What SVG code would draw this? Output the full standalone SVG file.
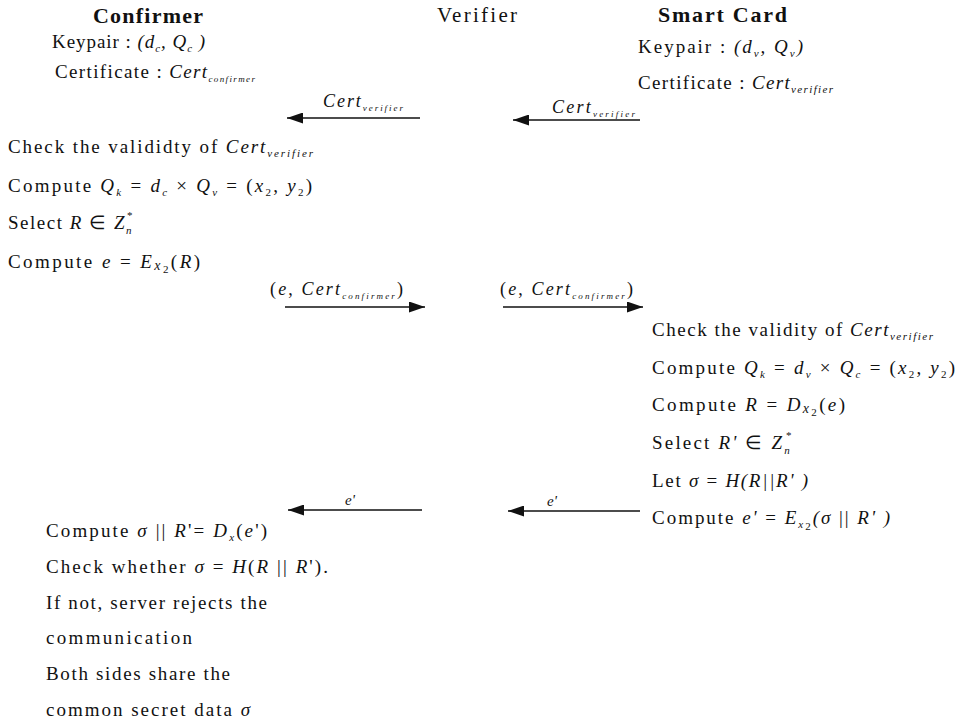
<svg xmlns="http://www.w3.org/2000/svg" width="958" height="719" viewBox="0 0 958 719">
  <defs>
    <style>
      .hd { font-weight: bold; font-size: 22px; }
      .pl { font-size: 21px; }
      .i { font-style: italic; }
      .s { font-style: italic; font-size: 11px; }
      .ss { font-style: italic; font-size: 9px; }
      .n { font-style: normal; font-size: 11px; }
      .lbl { font-size: 18px; }
      .conn line { stroke: #111; stroke-width: 1.5; }
    </style>
    <marker id="head" markerUnits="userSpaceOnUse" markerWidth="17" markerHeight="11" refX="16" refY="5.5" orient="auto">
      <path d="M0,0 L16,5.5 L0,11 Z" fill="#111"/>
    </marker>
  </defs>
  <rect width="958" height="719" fill="#fff"/>

  <g font-family="Liberation Serif, Times New Roman, serif" font-size="19" fill="#111">
  <!-- party headings -->
  <g id="confirmer-title"><text class="hd" x="93" y="23" textLength="110">Confirmer</text></g>
  <g id="verifier-title"><text class="pl" x="437" y="22" textLength="80">Verifier</text></g>
  <g id="smartcard-title"><text class="hd" x="658" y="22" textLength="129">Smart Card</text></g>

  <!-- confirmer key material -->
  <g id="confirmer-keys">
    <text x="52" y="48" textLength="153">Keypair : <tspan class="i">(d</tspan><tspan class="s" dy="4">c</tspan><tspan class="i" dy="-4">, Q</tspan><tspan class="s" dy="4">c</tspan><tspan class="i" dy="-4"> )</tspan></text>
    <text x="55" y="78" textLength="200">Certificate : <tspan class="i">Cert</tspan><tspan class="ss" dy="4">confirmer</tspan></text>
  </g>

  <!-- smart card key material -->
  <g id="smartcard-keys">
    <text x="638" y="53" textLength="165">Keypair : <tspan class="i">(d</tspan><tspan class="s" dy="4">v</tspan><tspan class="i" dy="-4">, Q</tspan><tspan class="s" dy="4">v</tspan><tspan class="i" dy="-4">)</tspan></text>
    <text x="638" y="89" textLength="195">Certificate : <tspan class="i">Cert</tspan><tspan class="s" dy="4">verifier</tspan></text>
  </g>

  <!-- confirmer: first computation block -->
  <g id="confirmer-step1">
    <text x="8" y="153" textLength="305">Check the valididty of <tspan class="i">Cert</tspan><tspan class="s" dy="4">verifier</tspan></text>
    <text x="8" y="192" textLength="304">Compute <tspan class="i">Q</tspan><tspan class="s" dy="4">k</tspan><tspan dy="-4"> = </tspan><tspan class="i">d</tspan><tspan class="s" dy="4">c</tspan><tspan dy="-4"> × </tspan><tspan class="i">Q</tspan><tspan class="s" dy="4">v</tspan><tspan dy="-4"> = (</tspan><tspan class="i">x</tspan><tspan class="n" dy="4">2</tspan><tspan dy="-4">, </tspan><tspan class="i">y</tspan><tspan class="n" dy="4">2</tspan><tspan dy="-4">)</tspan></text>
    <text x="8" y="229" textLength="125">Select <tspan class="i">R</tspan> ∈ <tspan class="i">Z</tspan><tspan class="s" dy="5">n</tspan><tspan class="n" dx="-6" dy="-15" font-size="14">*</tspan></text>
    <text x="8" y="268" textLength="192">Compute <tspan class="i">e</tspan> = <tspan class="i">E</tspan><tspan class="i" font-size="14" dy="2">x</tspan><tspan class="n" font-size="11" dy="3">2</tspan><tspan dy="-5">(</tspan><tspan class="i">R</tspan>)</text>
  </g>

  <!-- smart card: response block -->
  <g id="smartcard-step">
    <text x="652" y="336" textLength="281">Check the validity of <tspan class="i">Cert</tspan><tspan class="s" dy="4">verifier</tspan></text>
    <text x="652" y="374" textLength="303">Compute <tspan class="i">Q</tspan><tspan class="s" dy="4">k</tspan><tspan dy="-4"> =  </tspan><tspan class="i">d</tspan><tspan class="s" dy="4">v</tspan><tspan dy="-4"> × </tspan><tspan class="i">Q</tspan><tspan class="s" dy="4">c</tspan><tspan dy="-4"> = (</tspan><tspan class="i">x</tspan><tspan class="n" dy="4">2</tspan><tspan dy="-4">, </tspan><tspan class="i">y</tspan><tspan class="n" dy="4">2</tspan><tspan dy="-4">)</tspan></text>
    <text x="652" y="411" textLength="193">Compute <tspan class="i">R</tspan> = <tspan class="i">D</tspan><tspan class="i" font-size="14" dy="2">x</tspan><tspan class="n" font-size="11" dy="3">2</tspan><tspan dy="-5">(</tspan><tspan class="i">e</tspan>)</text>
    <text x="652" y="449" textLength="140">Select <tspan class="i">R'</tspan> ∈ <tspan class="i">Z</tspan><tspan class="s" dy="5">n</tspan><tspan class="n" dx="-6" dy="-15" font-size="14">*</tspan></text>
    <text x="652" y="487" textLength="156">Let <tspan class="i">σ</tspan> = <tspan class="i">H(R||R' )</tspan></text>
    <text x="652" y="524" textLength="238">Compute <tspan class="i">e'</tspan> = <tspan class="i">E</tspan><tspan class="s" font-size="9" dy="4">x</tspan><tspan class="n" font-size="7" dy="2">2</tspan><tspan class="i" dy="-6">(σ</tspan> || <tspan class="i">R' )</tspan></text>
  </g>

  <!-- confirmer: final check block -->
  <g id="confirmer-step2">
    <text x="46" y="537" textLength="221">Compute <tspan class="i">σ</tspan> || <tspan class="i">R</tspan>'= <tspan class="i">D</tspan><tspan class="s" dy="4">x</tspan><tspan dy="-4">(</tspan><tspan class="i">e</tspan>')</text>
    <text x="46" y="573" textLength="282">Check whether <tspan class="i">σ</tspan> = <tspan class="i">H</tspan>(<tspan class="i">R</tspan> || <tspan class="i">R</tspan>').</text>
    <text x="46" y="609" textLength="221">If not, server rejects the</text>
    <text x="46" y="644" textLength="146">communication</text>
    <text x="46" y="680" textLength="184">Both sides share the</text>
    <text x="46" y="716" textLength="204">common secret data <tspan class="i">σ</tspan></text>
  </g>

  <!-- message arrows and their labels -->
  <g id="connectors" class="conn">
    <line x1="420" y1="118" x2="287" y2="118" marker-end="url(#head)"/>
    <text class="lbl" x="323" y="107" textLength="80"><tspan class="i">Cert</tspan><tspan class="ss" dy="4">verifier</tspan></text>

    <line x1="640" y1="120" x2="513" y2="120" marker-end="url(#head)"/>
    <text class="lbl" x="552" y="113" textLength="83"><tspan class="i">Cert</tspan><tspan class="ss" dy="4">verifier</tspan></text>

    <line x1="285" y1="307" x2="425" y2="307" marker-end="url(#head)"/>
    <text class="lbl" x="270" y="295" textLength="133">(<tspan class="i">e</tspan>, <tspan class="i">Cert</tspan><tspan class="ss" dy="4">confirmer</tspan><tspan dy="-4">)</tspan></text>

    <line x1="503" y1="307" x2="643" y2="307" marker-end="url(#head)"/>
    <text class="lbl" x="500" y="295" textLength="133">(<tspan class="i">e</tspan>, <tspan class="i">Cert</tspan><tspan class="ss" dy="4">confirmer</tspan><tspan dy="-4">)</tspan></text>

    <line x1="422" y1="510" x2="288" y2="510" marker-end="url(#head)"/>
    <text class="i" x="345" y="505" font-size="15">e'</text>

    <line x1="640" y1="511" x2="508" y2="511" marker-end="url(#head)"/>
    <text class="i" x="547" y="506" font-size="15">e'</text>
  </g>
  </g>
</svg>
